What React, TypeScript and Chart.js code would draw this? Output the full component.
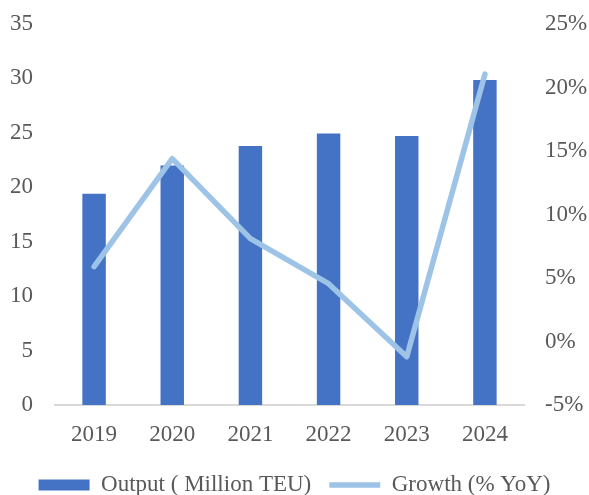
import React, { useEffect, useRef } from "react";
import { Chart, registerables } from "chart.js";

Chart.register(...registerables);

const years = ["2019", "2020", "2021", "2022", "2023", "2024"];
const outputMillionTEU = [19.4, 22.0, 23.8, 24.95, 24.7, 29.85];
const growthPctYoY = [5.9, 14.4, 8.1, 4.55, -1.2, 21.05];
const leftTicks = { min: 0, max: 35, step: 5 };
const rightTicks = { min: -5, max: 25, step: 5 };

const FONT = "'Liberation Serif', 'Times New Roman', serif";
const TEXT = "#595959";

export default function App() {
  const ref = useRef<HTMLCanvasElement>(null);

  useEffect(() => {
    document.body.style.margin = "0";
    const canvas = ref.current!;
    const chart = new Chart(canvas, {
      type: "bar",
      data: {
        labels: years,
        datasets: [
          {
            type: "bar",
            label: "Output ( Million TEU)",
            data: outputMillionTEU,
            backgroundColor: "#4472C4",
            borderWidth: 0,
            yAxisID: "y",
            categoryPercentage: 1,
            barPercentage: 0.3,
            pointStyle: "rect",
            order: 1,
          } as any,
          {
            type: "line",
            label: "Growth (% YoY)",
            data: growthPctYoY,
            borderColor: "#9DC3E6",
            backgroundColor: "#9DC3E6",
            borderWidth: 5.5,
            borderCapStyle: "round",
            borderJoinStyle: "round",
            pointRadius: 0,
            pointStyle: "line",
            tension: 0,
            yAxisID: "y1",
            order: 0,
          } as any,
        ],
      },
      options: {
        animation: false,
        responsive: false,
        layout: { padding: { top: 24, bottom: -11.5, left: 0, right: 0 } },
        plugins: {
          tooltip: { enabled: false },
          legend: {
            position: "bottom",
            labels: {
              usePointStyle: true,
              pointStyleWidth: 51,
              boxHeight: 11,
              padding: 18,
              color: TEXT,
              font: { family: FONT, size: 23 },
              sort: (a: any, b: any) => a.datasetIndex - b.datasetIndex,
            },
          },
        },
        scales: {
          x: {
            grid: { display: false, drawTicks: false },
            border: { display: true, color: "#D9D9D9", width: 2 },
            ticks: { color: TEXT, padding: 16, font: { family: FONT, size: 23 } },
            afterFit: (s: any) => {
              s.height = 50.5;
            },
          },
          y: {
            position: "left",
            min: leftTicks.min,
            max: leftTicks.max,
            grid: { display: false, drawTicks: false },
            border: { display: false },
            ticks: {
              stepSize: leftTicks.step,
              color: TEXT,
              padding: 22,
              font: { family: FONT, size: 23 },
            },
            afterFit: (s: any) => {
              s.width = 55;
              s.paddingTop = 0;
              s.paddingBottom = 0;
            },
          },
          y1: {
            position: "right",
            min: rightTicks.min,
            max: rightTicks.max,
            grid: { display: false, drawTicks: false },
            border: { display: false },
            ticks: {
              stepSize: rightTicks.step,
              color: TEXT,
              padding: 21,
              font: { family: FONT, size: 23 },
              callback: (v: any) => v + "%",
            },
            afterFit: (s: any) => {
              s.width = 65;
              s.paddingTop = 0;
              s.paddingBottom = 0;
            },
          },
        },
      } as any,
    });
    return () => chart.destroy();
  }, []);

  return (
    <div style={{ width: 589, height: 495 }}>
      <canvas ref={ref} width={589} height={495} style={{ display: "block" }} />
    </div>
  );
}
